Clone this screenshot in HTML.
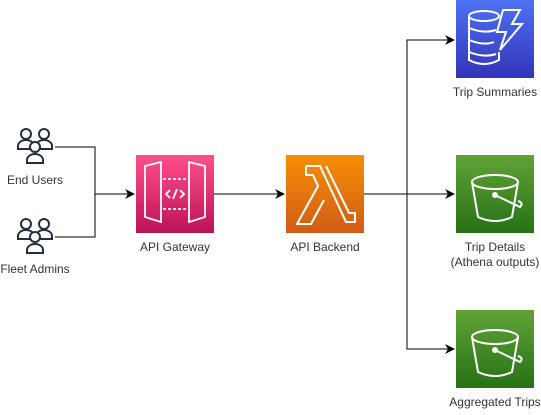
<!DOCTYPE html>
<html><head><style>
body{margin:0;width:541px;height:410px;background:#fff;overflow:hidden}
text{font-family:"Liberation Sans",sans-serif;font-size:12px;fill:#333}
</style></head><body>
<svg width="541" height="410" viewBox="0 0 541 410" xmlns="http://www.w3.org/2000/svg">
<defs>
<linearGradient id="gp" x1="0" y1="0" x2="0" y2="1"><stop offset="0" stop-color="#ff4f8b"/><stop offset="1" stop-color="#bc1356"/></linearGradient>
<linearGradient id="go" x1="0" y1="0" x2="0" y2="1"><stop offset="0" stop-color="#f78e04"/><stop offset="1" stop-color="#d05c17"/></linearGradient>
<linearGradient id="gb" x1="0" y1="0" x2="0" y2="1"><stop offset="0" stop-color="#4d72f3"/><stop offset="1" stop-color="#3334b9"/></linearGradient>
<linearGradient id="gg" x1="0" y1="0" x2="0" y2="1"><stop offset="0" stop-color="#60a337"/><stop offset="1" stop-color="#277116"/></linearGradient>
<marker id="a" markerWidth="10" markerHeight="10" refX="9" refY="5" orient="auto" markerUnits="userSpaceOnUse"><path d="M0,0 L10,5 L0,10 L3,5z" fill="#000"/></marker>
<g id="user" fill="none" stroke="#232f3e" stroke-width="2">
<circle cx="10" cy="7" r="5"/><path d="M2,22 v-3 a8,6 0 0 1 16,0 v3z"/>
<circle cx="28" cy="7" r="5"/><path d="M20,22 v-3 a8,6 0 0 1 16,0 v3z"/>
<circle cx="19" cy="20" r="5" fill="#fff"/><path d="M11,36 v-3 a8,6 0 0 1 16,0 v3z" fill="#fff"/>
</g>
<g id="bucket" fill="none" stroke="#fff" stroke-width="2">
<ellipse cx="39" cy="27" rx="23" ry="7"/>
<path d="M16,27 L22,62 Q39,70 56,62 L62,27"/>
<circle cx="39" cy="40" r="2" fill="#fff"/>
<path d="M39,40 L64,52 Q68,48 62,46"/>
</g>
</defs>
<g fill="none" stroke="#000" stroke-width="1">
<path d="M55,147 H95 V194 H134" marker-end="url(#a)"/>
<path d="M55,237 H95 V194"/>
<path d="M214,194 H284" marker-end="url(#a)"/>
<path d="M364,194 H454" marker-end="url(#a)"/>
<path d="M407,194 V40 H454" marker-end="url(#a)"/>
<path d="M407,194 V349 H454" marker-end="url(#a)"/>
</g>
<use href="#user" x="16" y="127"/>
<use href="#user" x="16" y="217"/>
<text x="35" y="184" text-anchor="middle">End Users</text>
<text x="35" y="273" text-anchor="middle">Fleet Admins</text>
<rect x="136" y="155" width="78" height="78" fill="url(#gp)"/>
<g fill="none" stroke="#fff" stroke-width="1.8">
<path d="M145,166 L161,162 V222 L145,217z"/><path d="M205,166 L189,162 V222 L205,217z"/>
<path d="M163,179 H187 M163,209 H187" stroke-dasharray="3,2"/>
<path d="M170,190 L166,194 L170,198 M180,190 L184,194 L180,198 M177,189 L173,199"/>
</g>
<text x="175" y="251" text-anchor="middle">API Gateway</text>
<rect x="286" y="155" width="78" height="78" fill="url(#go)"/>
<path d="M306,166 H320 L346,222 H355 V213 H349 L326,166 M306,166 V175 H313 L318,186 L297,224 H311 L324,200" fill="none" stroke="#fff" stroke-width="2" stroke-linejoin="round"/>
<text x="325" y="251" text-anchor="middle">API Backend</text>
<rect x="456" y="0" width="78" height="78" fill="url(#gb)"/>
<g fill="none" stroke="#fff" stroke-width="2">
<ellipse cx="484" cy="16" rx="15" ry="5"/>
<path d="M469,16 V60 Q484,68 499,60 V52 M469,28 Q484,34 496,30 M469,40 Q484,46 494,42 M469,52 Q484,58 496,54"/>
<path d="M503,10 H520 L512,24 H522 L500,50 L506,32 H497z"/>
</g>
<text x="495" y="96" text-anchor="middle">Trip Summaries</text>
<rect x="456" y="155" width="78" height="78" fill="url(#gg)"/>
<use href="#bucket" x="456" y="155"/>
<text x="495" y="251" text-anchor="middle">Trip Details</text>
<text x="495" y="266" text-anchor="middle">(Athena outputs)</text>
<rect x="456" y="310" width="78" height="78" fill="url(#gg)"/>
<use href="#bucket" x="456" y="310"/>
<text x="495" y="406" text-anchor="middle">Aggregated Trips</text>
</svg>
</body></html>
